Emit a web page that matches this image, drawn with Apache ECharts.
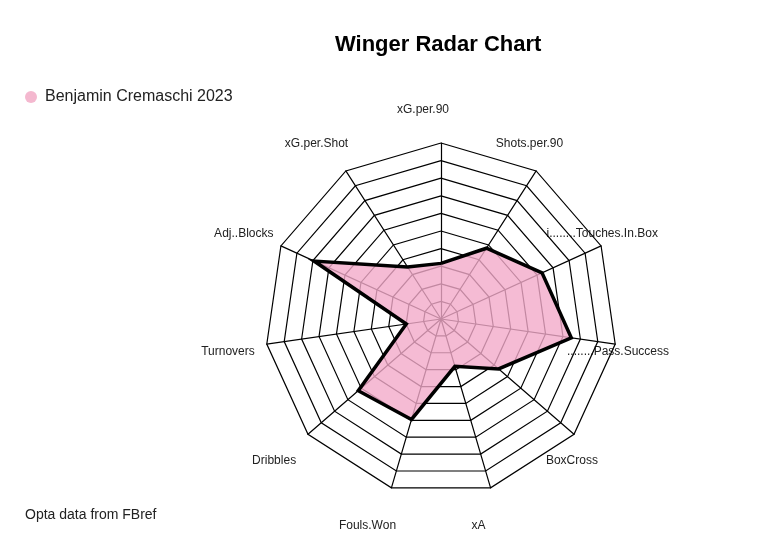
<!DOCTYPE html>
<html>
<head>
<meta charset="utf-8">
<script src="https://cdn.jsdelivr.net/npm/echarts@6/dist/echarts.min.js"></script>
<style>
  html, body { margin: 0; padding: 0; background: #ffffff; }
  #chart { width: 777px; height: 555px; }
</style>
</head>
<body>
<div id="chart"></div>
<script>
// Indicators in fmsb order (first at top, then counter-clockwise)
var indicatorNames = [
  'xG.per.90', 'xG.per.Shot', 'Adj..Blocks', 'Turnovers', 'Dribbles',
  'Fouls.Won', 'xA', 'BoxCross', '........Pass.Success',
  'i........Touches.In.Box', 'Shots.per.90'
];
// Scaled values (0 = inner ring, 1 = outer ring)
var playerValues = [0.24, 0.28, 0.77, 0.11, 0.58, 0.55, 0.20, 0.37, 0.72, 0.59, 0.42];
var seriesName = 'Benjamin Cremaschi 2023';
var segments = 9; // fmsb seg; one extra inner ring for the centre gap

var chart = echarts.init(document.getElementById('chart'), null, { renderer: 'canvas' });

var n = indicatorNames.length;
var labelCx = 423, labelCy = 322, labelRx = 197, labelRy = 212;
var labelGraphics = indicatorNames.map(function (name, k) {
  var th = Math.PI / 2 + k * 2 * Math.PI / n;
  return {
    type: 'text',
    x: labelCx + labelRx * Math.cos(th),
    y: labelCy - labelRy * Math.sin(th),
    style: {
      text: name,
      fill: '#222222',
      font: '12px "Liberation Sans", Arial, sans-serif',
      textAlign: 'center',
      textVerticalAlign: 'middle'
    }
  };
});

var option = {
  backgroundColor: '#ffffff',
  animation: false,
  title: [
    {
      text: 'Winger Radar Chart',
      left: 335,
      top: 34,
      padding: 0,
      textStyle: { fontFamily: '"Liberation Sans", Arial, sans-serif', fontSize: 22, fontWeight: 'bold', color: '#000000' }
    },
    {
      text: 'Opta data from FBref',
      left: 25,
      top: 508,
      padding: 0,
      textStyle: { fontFamily: '"Liberation Sans", Arial, sans-serif', fontSize: 14, fontWeight: 'normal', color: '#222222' }
    }
  ],
  legend: {
    data: [seriesName],
    left: 25,
    top: 89,
    padding: 0,
    icon: 'circle',
    itemWidth: 12,
    itemHeight: 12,
    textStyle: { fontFamily: '"Liberation Sans", Arial, sans-serif', fontSize: 16, color: '#222222', padding: [0, 0, 0, 3] }
  },
  radar: {
    center: [441, 319],
    radius: 176,
    startAngle: 90,
    shape: 'polygon',
    splitNumber: segments + 1,
    indicator: indicatorNames.map(function (name) {
      return { name: name, min: -1 / segments, max: 1 };
    }),
    axisName: { show: false },
    axisLine: { lineStyle: { color: '#000000', width: 1.2 } },
    splitLine: { lineStyle: { color: '#000000', width: 1.2 } },
    splitArea: { show: false },
    axisTick: { show: false },
    axisLabel: { show: false }
  },
  series: [
    {
      type: 'radar',
      name: seriesName,
      symbol: 'none',
      z: 2,
      itemStyle: { color: '#F4B8CF' },
      lineStyle: { width: 0, opacity: 0 },
      areaStyle: { color: 'rgba(243,170,201,0.8)', opacity: 1 },
      data: [{ value: playerValues, name: seriesName }]
    },
    {
      type: 'radar',
      name: seriesName + ' outline',
      symbol: 'none',
      z: 3,
      itemStyle: { color: '#000000' },
      lineStyle: { color: '#000000', width: 3.5, join: 'miter' },
      data: [{ value: playerValues, name: seriesName + ' outline' }]
    }
  ],
  graphic: labelGraphics
};
chart.setOption(option);
</script>
</body>
</html>
